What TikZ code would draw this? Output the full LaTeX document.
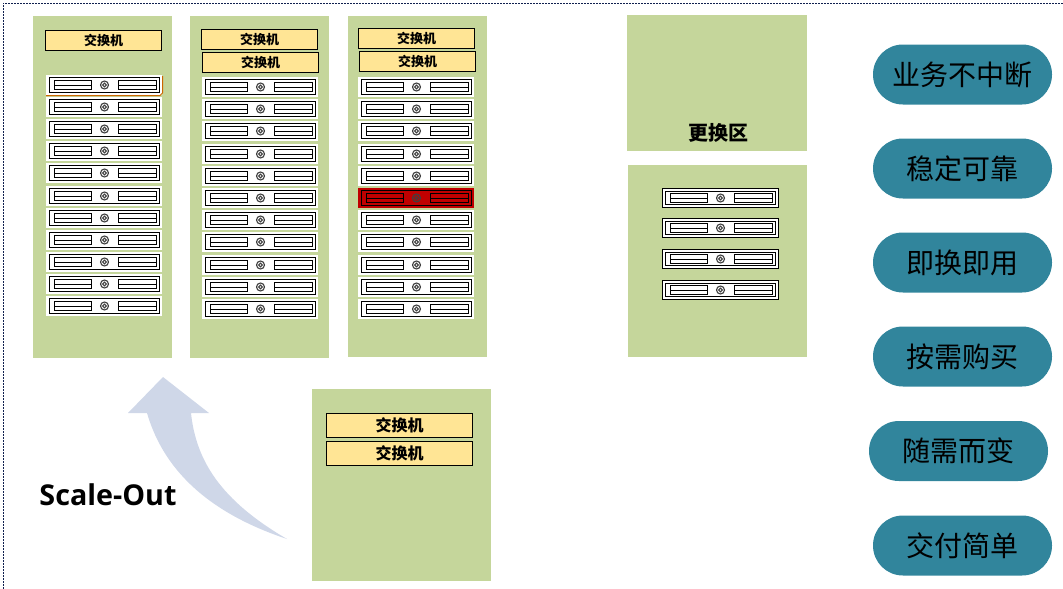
\documentclass[tikz,border=0pt]{standalone}
\usepackage{fontspec}
\setmainfont{Open Sans}
\newfontfamily\cjk{Noto Sans CJK SC}
\usetikzlibrary{positioning}
\definecolor{RackGreen}{HTML}{C5D69B}
\definecolor{SwitchGold}{HTML}{FFE595}
\definecolor{PillTeal}{HTML}{31859C}
\definecolor{ArrowBlue}{HTML}{CFD7E8}
\definecolor{FrameNavy}{HTML}{10204F}
\definecolor{FaultRed}{HTML}{C00000}
\tikzset{
  rackbox/.style={fill=RackGreen,inner sep=0pt,anchor=north west},
  switchbox/.style={draw=black,line width=1.1pt,fill=SwitchGold,inner sep=0pt,font=\cjk\bfseries\fontsize{13}{13}\selectfont},
  pillbox/.style={fill=PillTeal,rounded corners=29.9pt,minimum width=179pt,minimum height=60pt,inner sep=0pt,font=\cjk\fontsize{28}{28}\selectfont},
  slotbox/.style={draw=black,line width=1pt},
  pics/serverunit/.style={code={
    \fill[#1] (-58.5,-10) rectangle (57.5,10);
    \draw[slotbox] (-55,-7.5) rectangle (55,7.5);
    \draw[slotbox] (-50,-4.5) rectangle (-13,4.5) (-50,0.5) -- (-13,0.5);
    \draw[slotbox] (14,-4.5) rectangle (52,4.5) (14,0.5) -- (52,0.5);
    \draw[black!75,line width=1.1pt] (0,0) circle (4pt) (0,0) circle (1.8pt);
  }},
  pics/spareunit/.style={code={
    \draw[slotbox,fill=white] (-58,-9.5) rectangle (58,9.5);
    \draw[slotbox] (-55,-6.5) rectangle (55,6.5);
    \draw[slotbox] (-50,-4.5) rectangle (-13,4.5) (-50,0.5) -- (-13,0.5);
    \draw[slotbox] (14,-4.5) rectangle (52,4.5) (14,0.5) -- (52,0.5);
    \draw[black!75,line width=1.1pt] (0,0) circle (4pt) (0,0) circle (1.8pt);
  }}
}
\begin{document}
\begin{tikzpicture}[x=1pt,y=-1pt]
  \useasboundingbox (0,0) rectangle (1063,589);
  \draw[FrameNavy,line width=0.9pt,dash pattern=on 2pt off 1pt] (3,589) -- (3,3) -- (1063,3);

  \node[rackbox,minimum width=139pt,minimum height=342pt] (rackA) at (33,16) {};
  \node[rackbox,minimum width=139pt,minimum height=342pt] (rackB) at (190,16) {};
  \node[rackbox,minimum width=139pt,minimum height=341pt] (rackC) at (348,16) {};
  \node[rackbox,minimum width=180pt,minimum height=136pt] (swapTop) at (627,15) {};
  \node[font=\cjk\bfseries\fontsize{20}{20}\selectfont] (swapLabel) at (718,132.5) {更换区};
  \node[rackbox,minimum width=179pt,minimum height=192pt] (swapBottom) at (628,165) {};
  \node[rackbox,minimum width=179pt,minimum height=192pt] (rackNew) at (312,389) {};

  \node[switchbox,minimum width=116pt,minimum height=20pt] (swA) at (103.5,40.5) {交换机};
  \node[switchbox,minimum width=116pt,minimum height=20pt] (swBa) at (259.5,39.5) {交换机};
  \node[switchbox,minimum width=116pt,minimum height=20pt] (swBb) at (260.5,62.5) {交换机};
  \node[switchbox,minimum width=116pt,minimum height=20pt] (swCa) at (416.5,38.5) {交换机};
  \node[switchbox,minimum width=116pt,minimum height=20pt] (swCb) at (417.5,61.5) {交换机};
  \node[switchbox,minimum width=146pt,minimum height=24pt,font=\cjk\bfseries\fontsize{16}{16}\selectfont] (swNa) at (399.5,425.5) {交换机};
  \node[switchbox,minimum width=146pt,minimum height=24pt,font=\cjk\bfseries\fontsize{16}{16}\selectfont] (swNb) at (399.5,453.5) {交换机};

  \foreach \i in {0,...,10} {
    \pgfmathtruncatemacro{\rowa}{round(85+22.1*\i)}
    \pgfmathtruncatemacro{\rowb}{round(87+22.2*\i)}
    \pic at (104.5,\rowa) {serverunit=white};
    \pic at (260.5,\rowb) {serverunit=white};
    \ifnum\i=5
      \pic at (416.5,\rowb) {serverunit=FaultRed};
    \else
      \pic at (416.5,\rowb) {serverunit=white};
    \fi
  }
  \draw[orange!80!black,line width=1pt] (46,95.5) -- (160,95.5) -- (162.5,93) -- (162.5,76);

  \foreach \y in {198,228,259,290} {
    \pic at (720.5,\y) {spareunit};
  }

  \fill[ArrowBlue] (163,377) -- (209,413) -- (191,413)
    .. controls (196,460) and (220,500) .. (287,539)
    .. controls (215,515) and (165,475) .. (147,413)
    -- (128,413) -- cycle;
  \node[font=\bfseries\fontsize{28.7}{28.7}\selectfont] (scaleOut) at (108,495) {Scale-Out};

  \node[pillbox] (pillA) at (962.5,74.5) {业务不中断};
  \node[pillbox] (pillB) at (962.5,168.5) {稳定可靠};
  \node[pillbox] (pillC) at (962.5,262.5) {即换即用};
  \node[pillbox] (pillD) at (962.5,356.5) {按需购买};
  \node[pillbox] (pillE) at (958.5,451) {随需而变};
  \node[pillbox] (pillF) at (962.5,545.5) {交付简单};
\end{tikzpicture}
\end{document}
